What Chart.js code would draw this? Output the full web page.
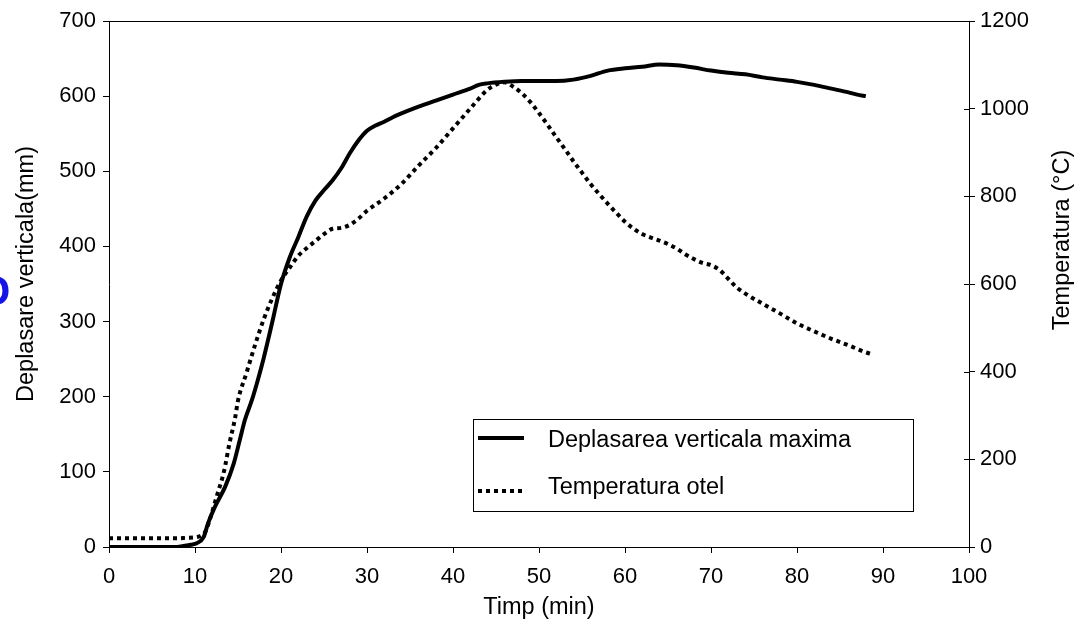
<!DOCTYPE html>
<html>
<head>
<meta charset="utf-8">
<script src="https://cdn.jsdelivr.net/npm/chart.js@4/dist/chart.umd.min.js"></script>
<style>
  html, body { margin: 0; padding: 0; background: #fff; }
  #wrap { width: 1077px; height: 622px; position: relative; }
</style>
</head>
<body>
<div id="wrap"><canvas id="c" width="1077" height="622"></canvas></div>
<script>
// ---- Data ----
const dispTime = [0, 2, 4, 6, 8, 8.5, 9.5, 10.2, 11, 11.5, 12.3, 13.5, 14.5, 15.2, 15.8, 16.6, 17.3, 18, 19, 20, 21, 22, 23, 24, 25, 26, 27, 28, 29, 30, 31, 32, 33, 34, 36, 38, 40, 42, 43, 44, 46, 48, 50, 52, 54, 56, 58, 60, 62, 64, 66, 68, 70, 72, 74, 76, 78, 80, 82, 84, 86, 87, 88];
const dispValues = [0, 0, 0, 0, 0, 1, 3, 5, 13, 31, 53, 80, 111, 142, 169, 195, 222, 252, 300, 350, 385, 412, 440, 461, 475, 488, 504, 524, 541, 554, 561, 566, 572, 577, 586, 594, 602, 610, 615, 617, 619, 620, 620, 620, 622, 627, 634, 637, 639, 642, 641, 638, 634, 631, 629, 625, 622, 619, 615, 610, 605, 602, 600];

const tempTime = [0, 2, 4, 6, 8, 9, 10, 10.6, 11.2, 11.7, 12.5, 13.4, 14, 14.65, 15, 16, 17, 18, 19, 20, 21, 22, 23, 24, 25, 26, 27, 28, 29, 30, 32, 34, 36, 38, 40, 42, 44, 45, 46, 47, 48, 49, 50, 51, 52, 53, 54, 55, 56, 57, 58, 59, 60, 61, 62, 63, 64, 65, 66, 67, 68, 69, 70, 71, 72, 73, 74, 76, 78, 80, 82, 84, 86, 88, 88.5];
const tempValues = [20, 20, 20, 20, 20, 21, 22, 25, 35, 61, 114, 175, 236, 293, 334, 398, 462, 520, 568, 608, 637, 664, 682, 698, 714, 726, 728, 735, 749, 767, 795, 828, 870, 910, 955, 1000, 1043, 1055, 1060, 1050, 1035, 1015, 990, 963, 935, 908, 880, 854, 828, 805, 783, 762, 742, 726, 714, 706, 699, 691, 681, 668, 657, 648, 643, 632, 612, 592, 578, 555, 533, 510, 492, 475, 460, 444, 441];

const seriesNames = ['Deplasarea verticala maxima', 'Temperatura otel'];
const xTitle = 'Timp (min)';
const yLeftTitle = 'Deplasare verticala(mm)';
const yRightTitle = 'Temperatura (°C)';
const strayMark = 'C';

// ---- Chart ----
const FONT = "'Liberation Sans', Arial, sans-serif";
Chart.defaults.font.family = FONT;
Chart.defaults.color = '#000';
const TICK = 22, TITLE = 23.5;

const toPts = (xs, ys) => xs.map((x, i) => ({ x: x, y: ys[i] }));
const plain = v => String(v);

const overlay = {
  id: 'overlay',
  afterDraw(chart) {
    const ctx = chart.ctx;
    const a = chart.chartArea;
    ctx.save();
    // frame top
    ctx.strokeStyle = '#000';
    ctx.lineWidth = 1;
    ctx.beginPath();
    ctx.moveTo(a.left, a.top + 0.5);
    ctx.lineTo(a.right, a.top + 0.5);
    ctx.stroke();

    // inner half of the right axis ticks (they cross the axis)
    const y1 = chart.scales.y1;
    ctx.beginPath();
    y1.ticks.forEach(t => {
      const py = Math.round(y1.getPixelForValue(t.value)) + 0.5;
      ctx.moveTo(a.right - 5, py);
      ctx.lineTo(a.right, py);
    });
    ctx.stroke();

    // axis titles (both rotated -90)
    ctx.fillStyle = '#000';
    ctx.font = TITLE + 'px ' + FONT;
    ctx.textAlign = 'center';
    ctx.textBaseline = 'middle';
    ctx.save();
    ctx.translate(1063, 240);
    ctx.rotate(-Math.PI / 2);
    ctx.fillText(yRightTitle, 0, 0);
    ctx.restore();
    ctx.save();
    ctx.translate(27, 274);
    ctx.rotate(-Math.PI / 2);
    ctx.fillText(yLeftTitle, 0, 0);
    ctx.restore();

    // legend box
    const lx = 473, ly = 419, lw = 440, lh = 92;
    ctx.strokeStyle = '#000';
    ctx.lineWidth = 1;
    ctx.strokeRect(lx + 0.5, ly + 0.5, lw, lh);
    const rows = [438, 491];
    const textRows = [441, 488];
    chart.data.datasets.forEach((ds, i) => {
      ctx.save();
      ctx.strokeStyle = ds.borderColor;
      ctx.lineWidth = ds.borderWidth;
      ctx.lineCap = 'butt';
      ctx.setLineDash(ds.borderDash || []);
      ctx.beginPath();
      ctx.moveTo(478, rows[i]);
      ctx.lineTo(524, rows[i]);
      ctx.stroke();
      ctx.restore();
      ctx.fillStyle = '#000';
      ctx.font = TITLE + 'px ' + FONT;
      ctx.textAlign = 'left';
      ctx.textBaseline = 'middle';
      ctx.fillText(ds.label, 548, textRows[i]);
    });

    // stray blue glyph at left edge
    ctx.save();
    ctx.fillStyle = '#1414e6';
    ctx.font = 'bold 42px ' + FONT;
    ctx.textAlign = 'center';
    ctx.textBaseline = 'middle';
    ctx.translate(-5, 288);
    ctx.rotate(Math.PI);
    ctx.fillText(strayMark, 0, 0);
    ctx.restore();

    ctx.restore();
  }
};

new Chart(document.getElementById('c'), {
  type: 'line',
  data: {
    datasets: [
      {
        label: seriesNames[0],
        data: toPts(dispTime, dispValues),
        yAxisID: 'y',
        borderColor: '#000',
        borderWidth: 4,
        pointRadius: 0,
        cubicInterpolationMode: 'monotone',
        fill: false
      },
      {
        label: seriesNames[1],
        data: toPts(tempTime, tempValues),
        yAxisID: 'y1',
        borderColor: '#000',
        borderWidth: 4,
        borderDash: [4, 4],
        borderCapStyle: 'butt',
        pointRadius: 0,
        cubicInterpolationMode: 'monotone',
        fill: false
      }
    ]
  },
  options: {
    responsive: false,
    animation: false,
    layout: { padding: { top: 21, left: 0, right: 0, bottom: 0 } },
    plugins: { legend: { display: false }, tooltip: { enabled: false } },
    scales: {
      x: {
        type: 'linear',
        min: 0, max: 100,
        ticks: { stepSize: 10, font: { size: TICK }, color: '#000', padding: 11, maxRotation: 0, callback: plain },
        grid: { drawOnChartArea: false, tickLength: 6, color: '#000' },
        border: { color: '#000', width: 1 },
        title: { display: true, text: xTitle, font: { size: TITLE }, color: '#000', padding: { top: 2, bottom: 0 } },
        afterFit(s) { s.height = 75; }
      },
      y: {
        position: 'left',
        min: 0, max: 700,
        ticks: { stepSize: 100, font: { size: TICK }, color: '#000', padding: 7, callback: plain },
        grid: { drawOnChartArea: false, tickLength: 6, color: '#000' },
        border: { color: '#000', width: 1 },
        title: { display: false },
        afterFit(s) { s.width = 109; }
      },
      y1: {
        position: 'right',
        min: 0, max: 1200,
        ticks: { stepSize: 200, font: { size: TICK }, color: '#000', padding: 5, callback: plain },
        grid: { drawOnChartArea: false, tickLength: 6, color: '#000' },
        border: { color: '#000', width: 1 },
        title: { display: false },
        afterFit(s) { s.width = 108; }
      }
    }
  },
  plugins: [overlay]
});
</script>
</body>
</html>
